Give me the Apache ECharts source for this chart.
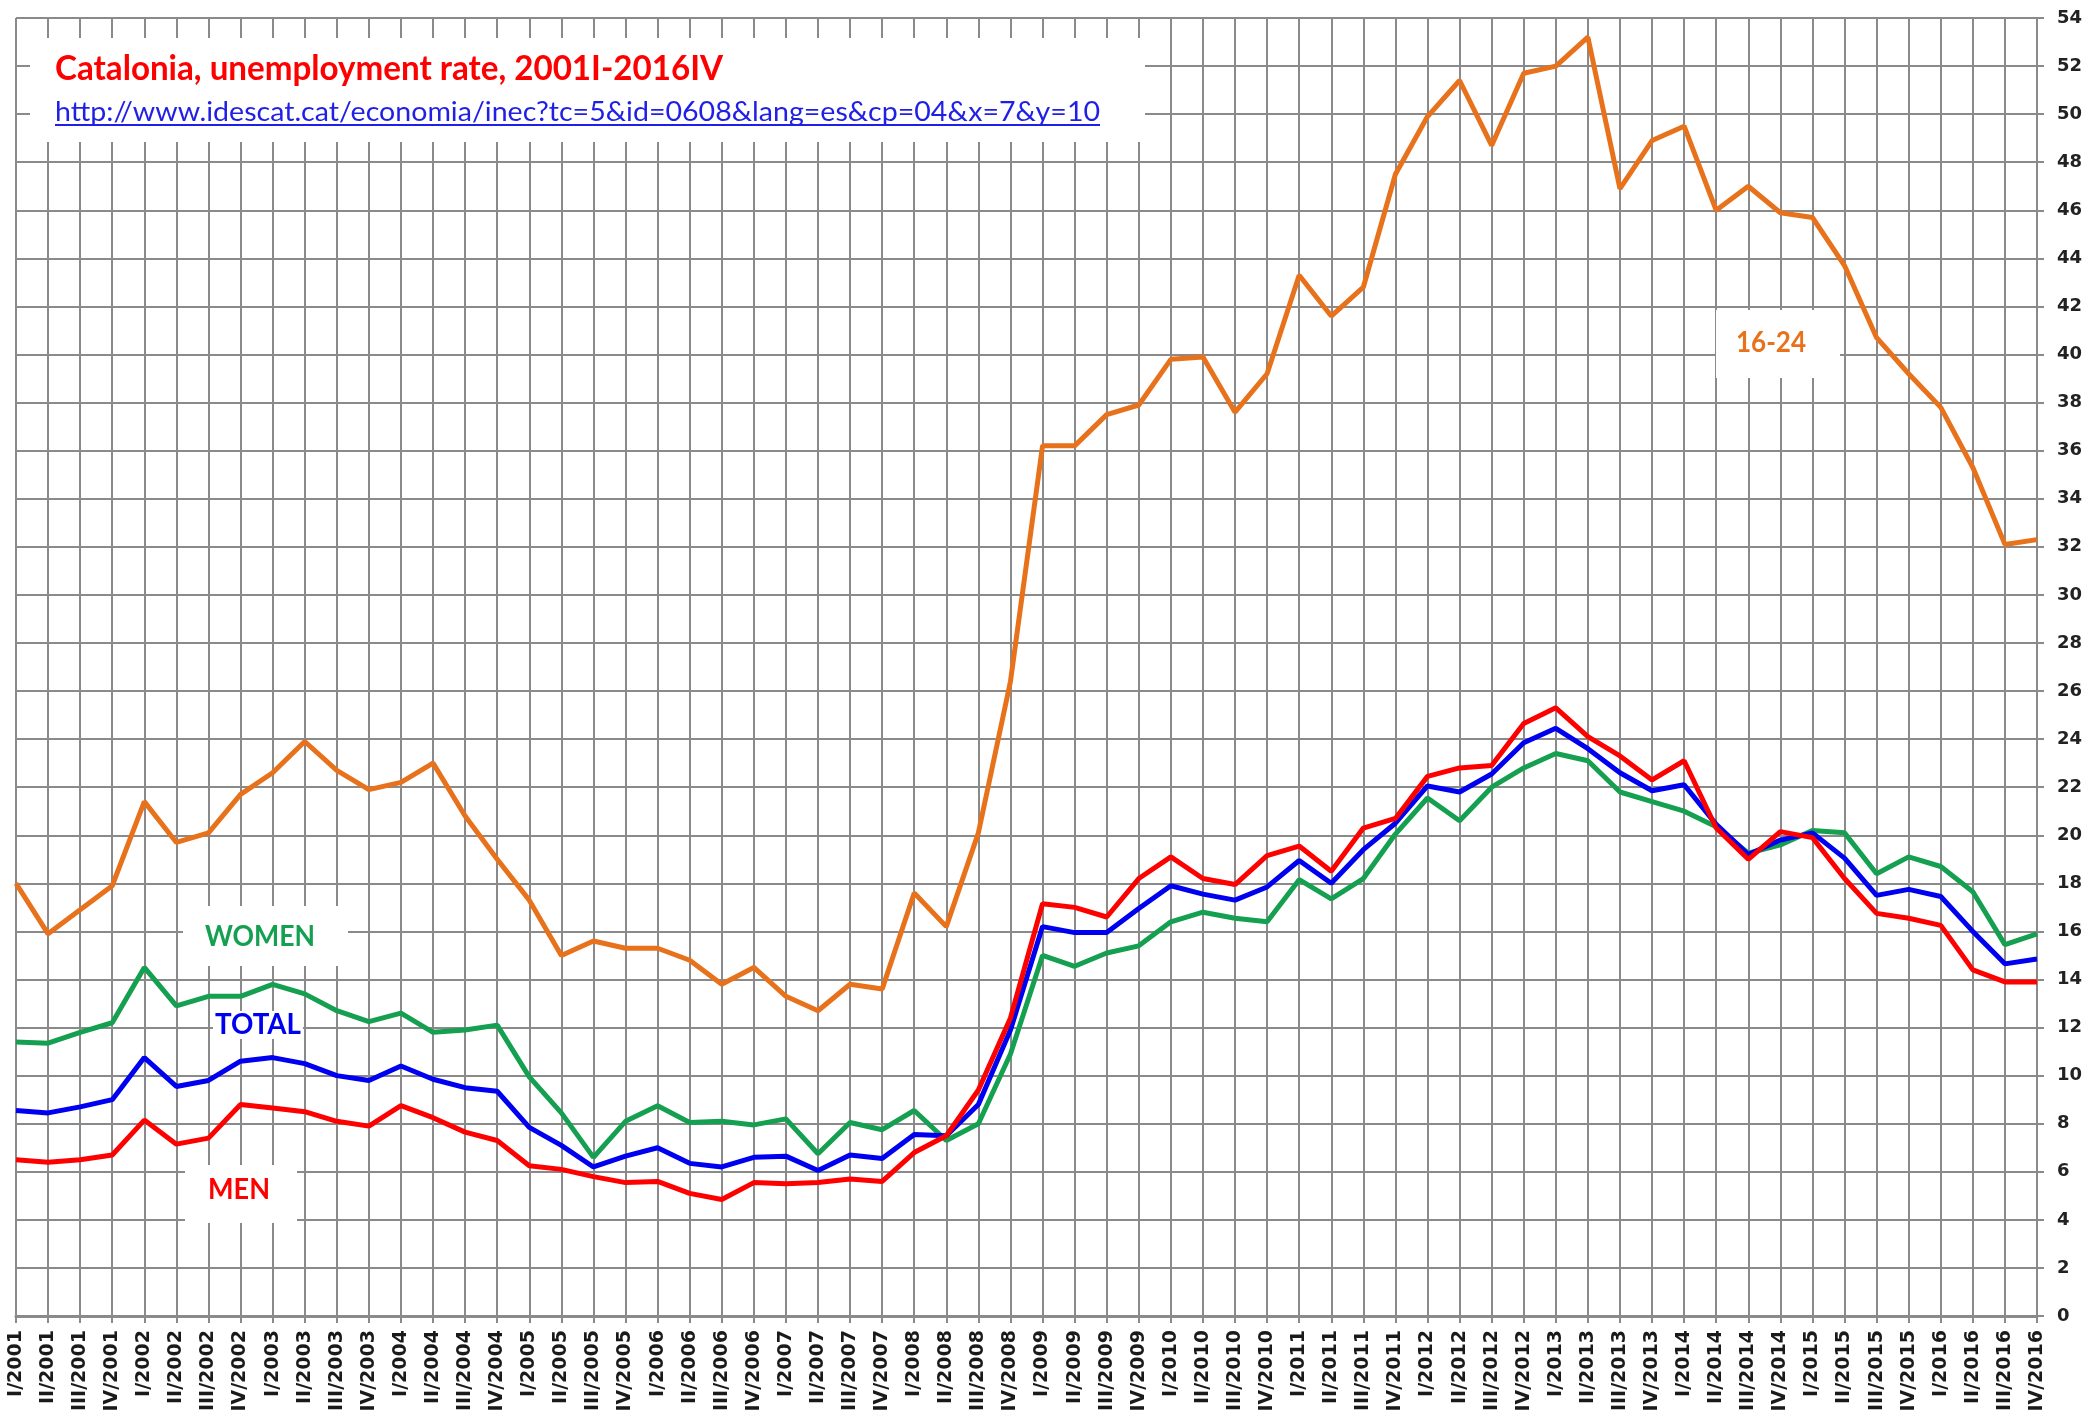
<!DOCTYPE html>
<html>
<head>
<meta charset="utf-8">
<script src="https://cdn.jsdelivr.net/npm/echarts@6/dist/echarts.min.js"></script>
<style>
html,body{margin:0;padding:0;background:#fff;}
#chart{width:2096px;height:1418px;}
</style>
</head>
<body>
<div id="chart"></div>
<script>
const categories = [
 "I/2001","II/2001","III/2001","IV/2001","I/2002","II/2002","III/2002","IV/2002",
 "I/2003","II/2003","III/2003","IV/2003","I/2004","II/2004","III/2004","IV/2004",
 "I/2005","II/2005","III/2005","IV/2005","I/2006","II/2006","III/2006","IV/2006",
 "I/2007","II/2007","III/2007","IV/2007","I/2008","II/2008","III/2008","IV/2008",
 "I/2009","II/2009","III/2009","IV/2009","I/2010","II/2010","III/2010","IV/2010",
 "I/2011","II/2011","III/2011","IV/2011","I/2012","II/2012","III/2012","IV/2012",
 "I/2013","II/2013","III/2013","IV/2013","I/2014","II/2014","III/2014","IV/2014",
 "I/2015","II/2015","III/2015","IV/2015","I/2016","II/2016","III/2016","IV/2016"
];

const youth16_24 = [
 18.0,15.9,16.9,17.9,21.4,19.7,20.1,21.7,22.6,23.9,
 22.7,21.9,22.2,23.0,20.8,19.0,17.3,15.0,15.6,15.3,
 15.3,14.8,13.8,14.5,13.3,12.7,13.8,13.6,17.6,16.2,
 20.1,26.4,36.2,36.2,37.5,37.9,39.8,39.9,37.6,39.2,
 43.3,41.6,42.8,47.5,49.9,51.4,48.7,51.7,52.0,53.2,
 46.9,48.9,49.5,46.0,47.0,45.9,45.7,43.7,40.7,39.2,
 37.8,35.3,32.1,32.3
];

const women = [
 11.4,11.35,11.8,12.2,14.5,12.9,13.3,13.3,13.8,13.4,
 12.7,12.25,12.6,11.8,11.9,12.1,9.95,8.45,6.6,8.1,
 8.75,8.05,8.1,7.95,8.2,6.75,8.05,7.75,8.55,7.3,
 8.0,10.9,15.0,14.55,15.1,15.4,16.4,16.8,16.55,16.4,
 18.15,17.35,18.2,20.05,21.55,20.6,22.0,22.8,23.4,23.1,
 21.8,21.4,21.0,20.35,19.25,19.6,20.2,20.1,18.4,19.1,
 18.7,17.65,15.45,15.9
];

const total = [
 8.55,8.45,8.7,9.0,10.75,9.55,9.8,10.6,10.75,10.5,
 10.0,9.8,10.4,9.85,9.5,9.35,7.85,7.1,6.2,6.65,
 7.0,6.35,6.2,6.6,6.65,6.05,6.7,6.55,7.55,7.5,
 8.8,11.9,16.2,15.95,15.95,16.95,17.9,17.55,17.3,17.85,
 18.95,18.0,19.4,20.5,22.05,21.8,22.55,23.85,24.45,23.6,
 22.6,21.85,22.1,20.45,19.2,19.8,20.1,19.05,17.5,17.75,
 17.45,16.0,14.65,14.85
];

const men = [
 6.5,6.4,6.5,6.7,8.15,7.15,7.4,8.8,8.65,8.5,
 8.1,7.9,8.75,8.25,7.65,7.3,6.25,6.1,5.8,5.55,
 5.6,5.1,4.85,5.55,5.5,5.55,5.7,5.6,6.8,7.5,
 9.4,12.4,17.15,17.0,16.6,18.2,19.1,18.2,17.95,19.15,
 19.55,18.5,20.3,20.7,22.45,22.8,22.9,24.65,25.3,24.1,
 23.3,22.3,23.1,20.3,19.0,20.15,19.9,18.2,16.75,16.55,
 16.25,14.4,13.9,13.9
];

const titleText = "Catalonia, unemployment rate, 2001I-2016IV";
const urlText = "http://www.idescat.cat/economia/inec?tc=5&id=0608&lang=es&cp=04&x=7&y=10";

const COL_ORANGE = '#E8721C';
const COL_GREEN = '#14A050';
const COL_BLUE = '#0000F0';
const COL_RED = '#FF0000';
const GRID_COL = '#8a8a8a';

const mctx = document.createElement('canvas').getContext('2d');
function fitScale(text, font, target) {
  mctx.font = font;
  const w = mctx.measureText(text).width;
  return w > 0 ? target / w : 1;
}

const titleFont = 'bold 35px Lato';
const urlFont = '27px Lato';
const lblFont = 'bold 28px Lato';

function textEl(text, x, y, font, color, align, targetW, bg) {
  const el = {
    type: 'text', x: x, y: y, z: 10,
    scaleX: fitScale(text, font, targetW),
    style: { text: text, font: font, fill: color, align: align, verticalAlign: 'middle' }
  };
  if (bg) {
    el.style.backgroundColor = '#fff';
    el.style.padding = [0, 2, 0, 2];
  }
  return el;
}

const chart = echarts.init(document.getElementById('chart'), null, {renderer: 'canvas'});

const LW = 5;
const option = {
  animation: false,
  backgroundColor: '#fff',
  grid: { left: 16, right: 59, top: 18, bottom: 102, containLabel: false },
  xAxis: {
    type: 'category',
    data: categories,
    boundaryGap: false,
    axisLine: { show: true, lineStyle: { color: '#8a8a8a', width: 3 } },
    axisTick: { show: true, interval: 0, length: 7, lineStyle: { color: '#8a8a8a', width: 2 } },
    axisLabel: {
      interval: 0, rotate: 90, margin: 14,
      fontFamily: 'DejaVu Sans', fontWeight: 'bold', fontSize: 19, color: '#1a1a1a'
    },
    splitLine: { show: true, interval: 0, lineStyle: { color: GRID_COL, width: 2 } }
  },
  yAxis: {
    type: 'value',
    position: 'right',
    min: 0, max: 54, interval: 2,
    axisLine: { show: true, lineStyle: { color: '#8a8a8a', width: 2 } },
    axisTick: { show: true, length: 7, lineStyle: { color: '#8a8a8a', width: 2 } },
    axisLabel: {
      margin: 20, fontFamily: 'DejaVu Sans', fontWeight: 'bold', fontSize: 18, color: '#222'
    },
    splitLine: { show: true, lineStyle: { color: GRID_COL, width: 2 } }
  },
  series: [
    { name: '16-24', type: 'line', data: youth16_24, showSymbol: false, z: 3,
      lineStyle: { color: COL_ORANGE, width: LW }, itemStyle: { color: COL_ORANGE } },
    { name: 'WOMEN', type: 'line', data: women, showSymbol: false, z: 4,
      lineStyle: { color: COL_GREEN, width: LW }, itemStyle: { color: COL_GREEN } },
    { name: 'TOTAL', type: 'line', data: total, showSymbol: false, z: 5,
      lineStyle: { color: COL_BLUE, width: LW }, itemStyle: { color: COL_BLUE } },
    { name: 'MEN', type: 'line', data: men, showSymbol: false, z: 6,
      lineStyle: { color: COL_RED, width: LW }, itemStyle: { color: COL_RED } }
  ],
  graphic: [
    { type: 'rect', z: 1, shape: { x: 30, y: 38, width: 1115, height: 104 }, style: { fill: '#fff' } },
    { type: 'rect', z: 1, shape: { x: 183, y: 906, width: 165, height: 60 }, style: { fill: '#fff' } },
    { type: 'rect', z: 1, shape: { x: 185, y: 1165, width: 112, height: 58 }, style: { fill: '#fff' } },
    { type: 'rect', z: 1, shape: { x: 1716, y: 310, width: 124, height: 68 }, style: { fill: '#fff' } },
    textEl(titleText, 55, 69, titleFont, '#FF0000', 'left', 668),
    textEl(urlText, 55, 112, urlFont, '#1F1FE6', 'left', 1045),
    { type: 'line', z: 10, shape: { x1: 55, y1: 125, x2: 1100, y2: 125 }, style: { stroke: '#1F1FE6', lineWidth: 2 } },
    textEl('WOMEN', 260, 937, lblFont, COL_GREEN, 'center', 110),
    textEl('TOTAL', 258, 1025, lblFont, COL_BLUE, 'center', 86, true),
    textEl('MEN', 239, 1190, lblFont, COL_RED, 'center', 62),
    textEl('16-24', 1771, 343, lblFont, COL_ORANGE, 'center', 70)
  ]
};
chart.setOption(option);
</script>
</body>
</html>
